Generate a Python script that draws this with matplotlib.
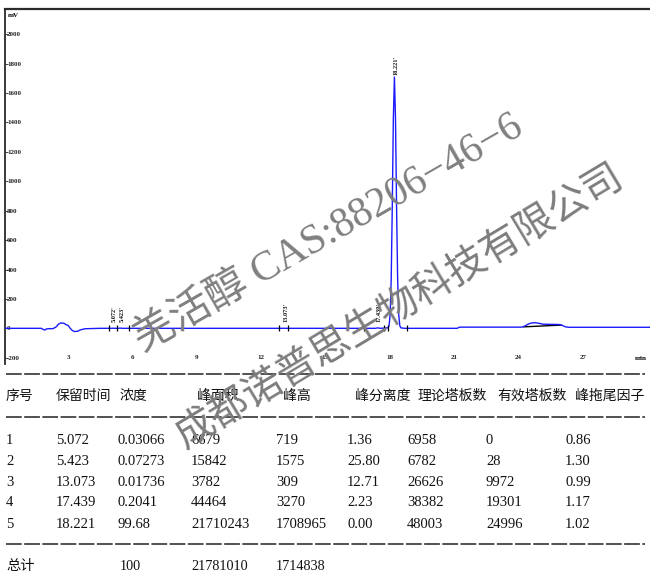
import matplotlib
matplotlib.use("Agg")
import matplotlib.pyplot as plt
from matplotlib.lines import Line2D

# ---------------- data ----------------
trace_t = [0.06, 1.75, 1.85, 1.92, 1.98, 2.05, 2.3, 2.45, 2.55, 2.65, 2.8, 2.9, 3.0, 3.1, 3.2,
           3.3, 3.45, 3.55, 3.7, 3.8, 4.0, 4.5, 5.0, 5.072, 5.2, 5.35, 5.423, 5.55, 12.95,
           13.073, 13.2, 17.35, 17.439, 17.55, 17.921, 17.971, 18.021, 18.071, 18.121, 18.171,
           18.221, 18.271, 18.321, 18.371, 18.421, 18.471, 18.521, 18.7, 21.15, 21.25, 24.15,
           24.3, 24.45, 24.6, 24.8, 25.0, 25.15, 25.5, 25.9, 26.05, 26.2, 26.35, 30.14]
trace_mv = [0, 0, -8, -12, -5, -3, -2, 10, 28, 36, 35, 25, 20, 0, -15,
            -22, -20, -12, -6, -3, -2, 0, 0, 0.7, 0, 0, 1.6, 0, 0,
            0.3, 0, 0, 3.3, 0, 3, 18, 94, 335, 827, 1427,
            1709, 1427, 827, 335, 94, 18, 3, 0, 0, 8, 8,
            15, 28, 36, 38, 33, 28, 27, 26, 20, 10, 7, 7]

peak_times = [5.072, 5.423, 13.073, 17.439, 18.221]
peak_label_txt = ["5.072'", "5.423'", "13.073'", "17.439'", "18.221'"]
peak_label_mv = [43, 43, 43, 43, 1722]
mark_times = [4.91, 5.30, 5.86, 12.84, 13.25, 16.80, 17.72, 17.90, 18.80]
hump_base_t = [24.25, 26.0]
hump_base_mv = [10, 22]

y_ticks = [-200, 0, 200, 400, 600, 800, 1000, 1200, 1400, 1600, 1800, 2000]
x_ticks = [3, 6, 9, 12, 15, 18, 21, 24, 27]

headers = ["序号", "保留时间", "浓度", "峰面积", "峰高", "峰分离度", "理论塔板数", "有效塔板数", "峰拖尾因子"]
col_no = ["1", "2", "3", "4", "5"]
col_rt = ["5.072", "5.423", "13.073", "17.439", "18.221"]
col_conc = ["0.03066", "0.07273", "0.01736", "0.2041", "99.68"]
col_area = ["6679", "15842", "3782", "44464", "21710243"]
col_height = ["719", "1575", "309", "3270", "1708965"]
col_res = ["1.36", "25.80", "12.71", "2.23", "0.00"]
col_theo = ["6958", "6782", "26626", "38382", "48003"]
col_eff = ["0", "28", "9972", "19301", "24996"]
col_tail = ["0.86", "1.30", "0.99", "1.17", "1.02"]
total_row = ["总计", "", "100", "21781010", "1714838"]

watermark1 = "羌活醇 CAS:88206−46−6"
watermark2 = "成都诺普思生物科技有限公司"

# ---------------- figure ----------------
W, H = 650, 576
fig = plt.figure(figsize=(W / 100, H / 100), dpi=100)
fig.patch.set_facecolor("white")

def fx(px):
    return px / W

def fy(py):
    return 1 - py / H

ax_left, ax_right, ax_top, ax_bot = 5, 650, 9, 363.6
ax = fig.add_axes([fx(ax_left), fy(ax_bot), fx(ax_right - ax_left), (ax_bot - ax_top) / H])
ax.set_xlim(0.06, 30.14)
ax.set_ylim(-240, 2172)
ax.set_facecolor("white")

for s in ["right", "bottom"]:
    ax.spines[s].set_visible(False)
ax.spines["top"].set_linewidth(1.6)
ax.spines["top"].set_color("#2a2a2a")
ax.spines["left"].set_linewidth(1.3)
ax.spines["left"].set_color("#2a2a2a")

tick_font = dict(family=["Liberation Serif", "DejaVu Sans"], size=5, weight="bold")

ax.set_yticks(y_ticks)
ax.set_yticklabels([str(v) for v in y_ticks], **tick_font)
ax.tick_params(axis="y", direction="in", length=2, width=0.6, pad=-1.5, colors="#222222")
for lab in ax.get_yticklabels():
    lab.set_horizontalalignment("left")

ax.set_xticks(x_ticks)
ax.set_xticklabels([str(v) for v in x_ticks], **tick_font)
ax.tick_params(axis="x", direction="in", length=0, pad=-6.5, colors="#222222")

ax.text(0.004, 0.983, "mV", transform=ax.transAxes, ha="left", va="center", **tick_font)
ax.text(0.986, 0.015, "min", transform=ax.transAxes, ha="center", va="center", **tick_font)

# trace
ax.plot(hump_base_t, hump_base_mv, color="black", lw=1.0, zorder=2)
ax.plot(trace_t, trace_mv, color="#1a1aff", lw=1.0, zorder=3)
ax.plot(mark_times, [0] * len(mark_times), "|", color="black", ms=5, mew=0.9, zorder=4)

for t, txt, yv in zip(peak_times, peak_label_txt, peak_label_mv):
    ax.text(t + 0.08, yv, txt, rotation=90, ha="center", va="bottom",
            family=["Liberation Serif", "DejaVu Sans"], size=4.5, weight="bold", color="#111111")

# ---------------- table ----------------
tfont = ["Liberation Serif", "Noto Sans CJK SC"]
hx = [6, 56, 120, 197, 283, 355, 418, 497, 575]
vx = [6, 56, 117, 191, 276, 347, 407, 486, 565]

for x, h in zip(hx, headers):
    fig.text(fx(x), fy(396.5), h, ha="left", va="center", family=tfont, size=10, color="#111111")

columns = [col_no, col_rt, col_conc, col_area, col_height, col_res, col_theo, col_eff, col_tail]
row_y = [441, 461.5, 482.5, 503, 524]
for x, col in zip(vx, columns):
    for yv, v in zip(row_y, col):
        fig.text(fx(x), fy(yv), v, ha="left", va="center", family=tfont, size=10.5, color="#111111")

tot_x = [6, 56, 120, 191, 276]
for x, v in zip(tot_x, total_row):
    if v:
        fig.text(fx(x), fy(566.5), v, ha="left", va="center", family=tfont, size=10.3, color="#111111")

for yv in [374, 417, 544]:
    fig.add_artist(Line2D([fx(6), fx(645)], [fy(yv), fy(yv)], transform=fig.transFigure,
                          color="#222222", lw=1.1, linestyle=(0, (10.3, 1.6))))

# ---------------- watermark ----------------
fig.text(fx(329), fy(234), watermark1, rotation=29.8, rotation_mode="anchor",
         ha="center", va="center", family=["Liberation Serif", "Noto Sans CJK SC"],
         size=30, color="#808080", zorder=10)
fig.text(fx(400), fy(307), watermark2, rotation=31, rotation_mode="anchor",
         ha="center", va="center", family=["Noto Sans CJK SC"],
         size=28.5, color="#7c7c7c", zorder=10)

fig.savefig("out.png", dpi=100, facecolor="white")
